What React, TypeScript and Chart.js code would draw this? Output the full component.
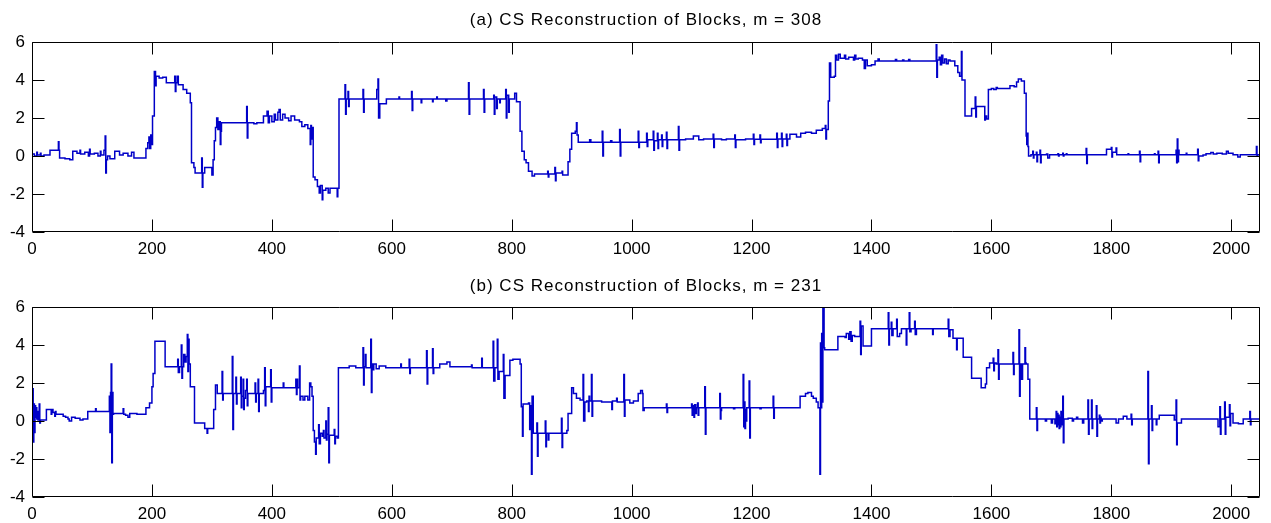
import React, { useEffect, useRef } from 'react';
import { Chart, registerables } from 'chart.js';

Chart.register(...registerables);

const FONT = '"Liberation Sans", Arial, Helvetica, sans-serif';

const xTicks = [0, 200, 400, 600, 800, 1000, 1200, 1400, 1600, 1800, 2000];
const yTicks = [-4, -2, 0, 2, 4, 6];
const xMax = 2048;
const titleA = '(a) CS Reconstruction of Blocks, m = 308';
const titleB = '(b) CS Reconstruction of Blocks, m = 231';

// step vertices [sample index, value]
const seriesA: Array<[number, number]> = [
  [0,0.1],[4,0.0],[8,0.2],[9,0.05],[14,0.15],[15,0.0],[20,0.05],[30,0.3],[44,0.75],[45,0.3],[46,-0.1],[55,-0.15],[63,-0.2],[68,0.25],[75,0.15],[80,0.3],[81,0.1],[88,0.2],[94,0.0],[96,0.35],[97,0.1],[104,0.15],[110,0.0],[114,0.25],[115,0.05],[120,0.3],[122,1.05],[123,-0.9],[124,-0.2],[126,0.0],[130,-0.15],[138,0.25],[146,0.05],[152,0.15],[160,0.0],[166,0.2],[170,-0.1],[190,0.4],[193,0.7],[195,1.0],[196,0.4],[198,1.1],[199,0.6],[201,2.1],[204,4.45],[206,3.7],[207,4.2],[212,4.1],[218,4.15],[224,3.85],[238,4.2],[239,3.4],[240,3.85],[242,4.2],[244,3.75],[252,3.5],[258,3.3],[264,2.8],[266,-0.35],[270,-0.6],[272,-0.9],[283,-0.1],[284,-1.65],[285,-0.9],[288,-0.6],[300,-1.0],[302,-0.2],[304,0.8],[306,1.5],[308,2.0],[310,1.4],[312,1.8],[314,0.6],[315,1.3],[316,1.75],[358,2.6],[359,0.95],[360,1.75],[370,1.7],[375,1.75],[386,2.1],[392,2.35],[394,1.75],[396,2.1],[400,1.8],[404,2.2],[406,1.9],[410,2.3],[412,2.45],[414,1.9],[418,2.2],[422,2.0],[428,1.85],[432,2.1],[438,1.9],[446,1.8],[450,1.55],[455,1.65],[460,1.45],[464,0.6],[465,1.6],[466,0.9],[467,1.5],[469,-1.1],[472,-1.25],[476,-1.6],[479,-1.95],[481,-1.55],[484,-2.3],[485,-1.8],[490,-1.7],[494,-1.95],[497,-1.7],[509,-2.15],[510,-1.7],[512,3.0],[522,3.75],[523,2.2],[524,3.0],[527,3.4],[528,2.6],[529,3.0],[552,3.5],[553,2.3],[554,3.0],[575,3.5],[577,4.05],[578,2.0],[580,2.75],[591,3.0],[612,3.1],[613,3.0],[633,3.4],[634,2.4],[635,3.0],[649,2.8],[650,3.0],[668,2.85],[669,3.0],[675,3.1],[676,3.0],[690,2.9],[692,3.0],[728,3.85],[729,2.2],[730,3.0],[753,3.5],[754,2.3],[755,3.0],[770,3.2],[771,2.2],[772,3.1],[775,2.5],[776,3.0],[780,2.8],[781,3.0],[790,3.5],[791,2.0],[792,3.2],[795,2.3],[796,3.0],[805,3.3],[808,2.85],[814,1.3],[817,0.25],[821,-0.2],[824,-0.35],[828,-0.8],[834,-1.05],[838,-0.95],[860,-0.8],[861,-1.1],[862,-0.95],[872,-0.6],[873,-1.3],[874,-0.9],[884,-0.8],[885,-1.0],[894,-0.3],[897,0.35],[900,1.2],[906,1.3],[908,1.75],[909,1.1],[911,0.72],[930,0.85],[932,0.72],[951,1.3],[952,0.0],[953,0.72],[965,0.8],[967,0.72],[980,1.4],[981,0.0],[982,0.72],[1011,1.3],[1012,0.45],[1013,0.72],[1025,1.2],[1026,0.5],[1027,0.85],[1036,1.3],[1037,0.3],[1038,0.8],[1043,1.2],[1044,0.4],[1045,0.85],[1050,1.1],[1051,0.5],[1052,0.85],[1058,1.25],[1059,0.4],[1060,0.85],[1078,1.55],[1079,0.3],[1080,0.85],[1090,0.9],[1103,1.05],[1112,0.85],[1120,0.9],[1136,1.15],[1137,0.45],[1138,0.9],[1150,0.85],[1158,0.9],[1172,1.1],[1173,0.45],[1174,0.85],[1190,0.9],[1203,1.15],[1204,0.6],[1205,0.88],[1214,1.1],[1215,0.7],[1216,0.88],[1242,1.2],[1243,0.45],[1244,0.9],[1250,1.2],[1251,0.5],[1252,0.9],[1258,1.15],[1259,0.55],[1260,0.9],[1264,1.15],[1275,1.0],[1282,1.2],[1290,1.25],[1300,1.2],[1308,1.35],[1318,1.45],[1323,1.6],[1324,0.9],[1325,1.4],[1328,2.9],[1330,4.9],[1332,4.15],[1338,4.2],[1340,5.3],[1342,5.05],[1345,5.35],[1348,5.15],[1355,5.3],[1357,5.1],[1362,5.2],[1370,5.05],[1372,5.3],[1374,5.1],[1378,5.15],[1385,5.05],[1388,4.6],[1390,5.05],[1393,4.75],[1400,4.8],[1406,5.0],[1411,5.1],[1413,5.0],[1440,5.08],[1442,5.0],[1452,5.05],[1454,5.0],[1462,5.08],[1464,5.0],[1508,5.85],[1509,4.15],[1510,5.05],[1513,5.2],[1515,4.8],[1517,5.3],[1519,4.9],[1522,5.1],[1525,4.85],[1528,5.05],[1531,5.0],[1539,4.75],[1544,4.4],[1547,4.2],[1550,5.5],[1551,4.0],[1556,2.1],[1567,2.5],[1573,3.1],[1574,2.05],[1575,2.6],[1589,1.9],[1590,2.1],[1592,1.95],[1595,3.5],[1600,3.55],[1604,3.5],[1608,3.6],[1610,3.55],[1631,3.7],[1638,3.65],[1642,3.9],[1645,4.05],[1650,3.95],[1655,3.3],[1658,1.05],[1659,0.6],[1660,1.2],[1661,0.5],[1662,0.0],[1666,0.07],[1669,0.25],[1670,-0.1],[1671,0.07],[1675,0.2],[1676,-0.3],[1677,0.07],[1681,0.3],[1682,-0.35],[1683,0.07],[1692,0.1],[1694,-0.1],[1697,0.07],[1711,0.12],[1712,0.0],[1713,0.07],[1719,0.15],[1720,0.0],[1721,0.07],[1725,0.12],[1726,0.07],[1758,0.4],[1759,-0.4],[1760,0.07],[1792,0.35],[1800,0.45],[1801,-0.05],[1802,0.2],[1808,0.42],[1809,0.07],[1828,0.12],[1829,0.07],[1847,0.25],[1848,-0.3],[1849,0.07],[1872,0.12],[1873,0.07],[1878,0.25],[1879,-0.35],[1880,0.07],[1908,0.3],[1909,-0.35],[1910,0.9],[1911,-0.3],[1912,0.3],[1913,0.07],[1925,0.15],[1926,0.07],[1944,0.35],[1945,-0.25],[1946,0.0],[1953,0.05],[1958,0.12],[1966,0.18],[1970,0.1],[1976,0.15],[1985,0.1],[1992,0.25],[1995,0.15],[2003,0.07],[2011,-0.05],[2015,0.07],[2042,0.5],[2043,0.0],[2044,0.07],[2047,0.07]
];

// step vertices [sample index, value]
const seriesB: Array<[number, number]> = [
  [0,0.3],[1,1.7],[2,-1.1],[3,0.9],[4,-0.6],[5,0.8],[6,0.2],[7,0.7],[8,0.1],[9,0.5],[10,0.05],[12,0.9],[13,-0.1],[14,0.05],[24,0.6],[32,0.35],[33,0.6],[35,0.45],[38,0.25],[39,0.5],[40,0.35],[52,0.25],[56,0.2],[60,0.1],[62,0.0],[66,0.2],[72,0.15],[80,0.05],[85,0.1],[93,0.5],[106,0.65],[107,0.5],[128,0.5],[129,1.3],[130,-0.6],[131,1.5],[132,3.0],[133,-2.2],[134,1.5],[135,0.35],[136,0.4],[152,0.65],[153,0.35],[156,0.3],[160,0.2],[163,0.4],[175,0.35],[190,0.7],[196,0.95],[200,1.8],[202,2.5],[205,4.2],[222,2.85],[243,3.25],[244,2.55],[246,2.85],[249,4.0],[250,2.25],[251,2.85],[253,3.5],[255,3.1],[257,3.4],[259,4.55],[260,2.6],[261,4.3],[262,3.0],[264,1.8],[271,-0.1],[288,-0.4],[292,-0.65],[293,-0.4],[303,0.6],[306,1.9],[309,1.45],[317,2.6],[318,1.1],[319,1.45],[334,3.4],[335,-0.45],[336,1.45],[340,2.3],[341,0.9],[342,1.45],[348,2.3],[349,0.7],[350,1.3],[352,2.2],[353,0.6],[354,1.2],[356,1.6],[358,2.2],[359,0.8],[360,1.45],[372,2.0],[373,1.0],[374,1.45],[377,2.2],[378,0.5],[379,1.45],[386,1.6],[388,2.8],[389,0.8],[390,1.8],[398,2.7],[399,1.0],[400,1.75],[419,2.0],[420,1.75],[440,2.2],[441,1.4],[442,2.2],[443,1.75],[446,2.9],[447,1.1],[448,1.3],[452,1.1],[455,1.3],[460,1.1],[463,2.0],[465,1.8],[467,1.3],[469,-0.5],[471,-1.1],[473,-1.75],[474,-0.9],[478,-0.2],[479,-1.2],[481,-0.65],[484,-0.8],[486,-0.5],[487,-0.9],[490,0.0],[491,-1.0],[492,-0.7],[494,0.7],[495,-2.2],[496,-0.75],[504,-0.45],[505,-1.2],[506,-0.8],[509,-0.9],[511,2.8],[529,2.9],[540,2.8],[552,3.85],[553,1.9],[554,2.85],[556,3.5],[557,2.8],[565,4.3],[566,1.5],[567,3.0],[568,2.7],[570,3.0],[574,2.75],[579,2.9],[590,2.8],[615,3.0],[616,2.8],[629,3.25],[630,2.5],[631,2.8],[658,3.7],[659,1.95],[660,2.8],[668,3.8],[669,2.5],[670,2.8],[680,3.0],[692,3.1],[697,2.85],[733,2.95],[734,2.8],[750,3.3],[751,2.8],[769,4.2],[770,2.1],[772,2.8],[776,4.3],[777,2.2],[779,2.6],[786,3.5],[787,1.2],[789,2.4],[797,3.2],[802,3.25],[814,3.0],[816,0.75],[818,-0.8],[819,0.9],[828,0.95],[830,-0.45],[831,0.8],[833,-2.8],[834,1.3],[836,-0.65],[842,-0.1],[843,-1.85],[844,-0.65],[856,0.0],[857,-1.35],[858,-0.65],[861,-1.0],[862,-0.65],[883,0.15],[884,-1.4],[885,-0.65],[892,-0.5],[894,0.4],[900,1.75],[903,1.45],[908,1.2],[914,1.1],[919,2.45],[920,0.0],[922,1.0],[925,1.05],[928,0.5],[929,1.3],[930,1.05],[933,2.45],[934,0.25],[935,1.05],[950,1.0],[967,0.6],[968,1.05],[975,1.2],[976,1.0],[987,2.45],[988,0.25],[989,1.1],[997,0.95],[1003,1.05],[1011,1.45],[1015,1.6],[1018,1.45],[1019,0.55],[1021,0.7],[1058,0.9],[1059,0.45],[1060,0.7],[1100,0.9],[1101,0.3],[1102,0.8],[1104,0.2],[1105,0.85],[1107,0.4],[1108,0.7],[1110,0.95],[1111,0.3],[1112,0.7],[1122,1.8],[1123,-0.7],[1124,0.7],[1147,1.45],[1148,0.1],[1149,0.55],[1150,0.7],[1170,0.65],[1172,0.7],[1186,2.45],[1187,-0.3],[1188,1.0],[1189,-0.4],[1190,0.6],[1191,0.0],[1192,0.7],[1196,2.1],[1197,-0.9],[1198,0.7],[1214,0.65],[1216,0.7],[1236,1.3],[1237,0.15],[1238,0.7],[1281,1.3],[1290,1.45],[1294,1.5],[1300,1.3],[1303,1.2],[1308,1.0],[1311,0.7],[1314,-2.8],[1315,4.1],[1316,0.7],[1317,4.6],[1318,1.0],[1319,6.0],[1321,3.85],[1322,3.75],[1344,4.45],[1356,4.4],[1358,4.6],[1362,4.3],[1364,4.7],[1366,4.2],[1368,4.5],[1372,4.45],[1381,5.25],[1382,3.5],[1383,5.0],[1386,3.95],[1400,4.85],[1428,5.7],[1429,4.0],[1430,4.85],[1433,5.2],[1434,4.5],[1436,4.85],[1442,5.35],[1443,4.45],[1447,4.6],[1450,4.85],[1458,4.0],[1459,4.85],[1463,5.7],[1464,4.7],[1466,4.85],[1472,5.25],[1473,4.55],[1475,4.85],[1502,4.55],[1503,4.85],[1528,5.35],[1529,4.45],[1531,4.8],[1536,4.35],[1542,3.75],[1543,4.35],[1553,3.35],[1567,2.25],[1583,1.75],[1590,1.95],[1592,2.8],[1597,3.05],[1603,3.3],[1604,2.65],[1605,3.05],[1608,3.0],[1611,3.75],[1612,2.2],[1613,3.0],[1636,3.6],[1637,2.45],[1638,3.0],[1646,4.8],[1647,1.3],[1648,3.0],[1650,2.2],[1652,3.0],[1656,3.85],[1657,3.05],[1658,3.0],[1661,2.2],[1664,0.1],[1675,0.7],[1676,-0.5],[1677,0.1],[1690,0.0],[1692,0.1],[1700,-0.1],[1702,0.1],[1706,-0.15],[1708,0.5],[1709,-0.3],[1710,0.4],[1711,-0.2],[1712,0.3],[1713,-0.4],[1714,0.2],[1715,-0.3],[1716,0.5],[1717,-0.2],[1718,0.1],[1719,1.3],[1720,-1.15],[1721,0.1],[1728,0.15],[1735,0.0],[1737,0.1],[1742,0.2],[1744,0.1],[1752,-0.1],[1754,0.1],[1761,1.1],[1762,-0.7],[1763,0.1],[1767,1.1],[1768,-0.4],[1769,0.1],[1775,0.8],[1776,-0.8],[1777,0.1],[1780,0.3],[1781,-0.1],[1782,0.2],[1783,0.0],[1785,0.1],[1808,-0.1],[1812,0.1],[1820,0.25],[1826,0.1],[1833,0.35],[1834,-0.2],[1835,0.1],[1861,2.6],[1862,-2.25],[1863,0.1],[1867,0.8],[1868,-0.5],[1869,0.1],[1875,-0.2],[1876,0.1],[1880,0.3],[1905,0.05],[1908,1.1],[1909,-1.25],[1910,-0.1],[1917,0.1],[1978,-0.3],[1981,0.75],[1982,-0.7],[1983,0.1],[1989,1.0],[1990,-0.7],[1991,0.2],[1997,0.85],[1998,-0.25],[1999,0.4],[2003,-0.1],[2012,-0.15],[2020,0.1],[2031,0.5],[2032,-0.2],[2033,0.1],[2047,0.1]
];

const matlabAxes = {
  id: 'matlabAxes',
  afterDraw(chart: any, _args: any, opts: any) {
    const { ctx, chartArea: a, scales } = chart;
    const xs = scales.x;
    const ys = scales.y;
    ctx.save();
    ctx.strokeStyle = '#000';
    ctx.lineWidth = 1;
    const L = a.left + 0.5;
    const R = a.right - 0.5;
    const T = a.top + 0.5;
    const B = a.bottom - 0.5;
    const tl = 12;
    ctx.beginPath();
    ctx.rect(L, T, R - L, B - T);
    xTicks.forEach((v) => {
      const px = Math.round(xs.getPixelForValue(v)) + 0.5;
      ctx.moveTo(px, T);
      ctx.lineTo(px, T + tl);
      ctx.moveTo(px, B);
      ctx.lineTo(px, B - tl);
    });
    yTicks.forEach((v) => {
      const py = Math.round(ys.getPixelForValue(v)) + 0.5;
      ctx.moveTo(L, py);
      ctx.lineTo(L + tl, py);
      ctx.moveTo(R, py);
      ctx.lineTo(R - tl, py);
    });
    ctx.stroke();
    ctx.font = `17px ${FONT}`;
    ctx.fillStyle = '#000';
    ctx.textAlign = 'center';
    ctx.textBaseline = 'middle';
    (ctx as any).letterSpacing = '1px';
    ctx.fillText(opts.text, (a.left + a.right) / 2, opts.y);
    ctx.restore();
  },
};

function makeConfig(points: Array<[number, number]>, text: string, padTop: number, xAxisH: number, titleY: number): any {
  const tickFont = { family: FONT, size: 17 };
  return {
    type: 'line',
    data: {
      datasets: [
        {
          data: points.map(([x, y]) => ({ x, y })),
          borderColor: '#0000c8',
          borderWidth: 1.5,
          pointRadius: 0,
          stepped: true,
          fill: false,
        },
      ],
    },
    options: {
      responsive: false,
      animation: false,
      events: [],
      layout: { padding: { top: padTop, right: 11, left: 0, bottom: 0 } },
      plugins: {
        legend: { display: false },
        tooltip: { enabled: false },
        title: { display: false },
        matlabAxes: { text, y: titleY },
      },
      scales: {
        x: {
          type: 'linear',
          min: 0,
          max: xMax,
          afterBuildTicks: (s: any) => {
            s.ticks = xTicks.map((v) => ({ value: v }));
          },
          afterFit: (s: any) => {
            s.height = xAxisH;
          },
          grid: { display: false, drawTicks: false },
          border: { display: false },
          ticks: {
            padding: 7,
            font: tickFont,
            color: '#000',
            maxRotation: 0,
            autoSkip: false,
            callback: (v: any) => String(v),
          },
        },
        y: {
          type: 'linear',
          min: -4,
          max: 6,
          afterBuildTicks: (s: any) => {
            s.ticks = yTicks.map((v) => ({ value: v }));
          },
          afterFit: (s: any) => {
            s.width = 32;
          },
          grid: { display: false, drawTicks: false },
          border: { display: false },
          ticks: {
            padding: 7,
            font: tickFont,
            color: '#000',
            autoSkip: false,
            callback: (v: any) => String(v),
          },
        },
      },
    },
    plugins: [matlabAxes],
  };
}

export default function App() {
  const refA = useRef<HTMLCanvasElement | null>(null);
  const refB = useRef<HTMLCanvasElement | null>(null);

  useEffect(() => {
    const cA = new Chart(refA.current as HTMLCanvasElement, makeConfig(seriesA, titleA, 42, 30, 20));
    const cB = new Chart(refB.current as HTMLCanvasElement, makeConfig(seriesB, titleB, 45, 26, 24));
    return () => {
      cA.destroy();
      cB.destroy();
    };
  }, []);

  return (
    <div style={{ position: 'absolute', left: 0, top: 0, width: 1271, height: 523, background: '#fff' }}>
      <canvas ref={refA} width={1271} height={262} style={{ display: 'block', width: 1271, height: 262 }} />
      <canvas ref={refB} width={1271} height={261} style={{ display: 'block', width: 1271, height: 261 }} />
    </div>
  );
}
